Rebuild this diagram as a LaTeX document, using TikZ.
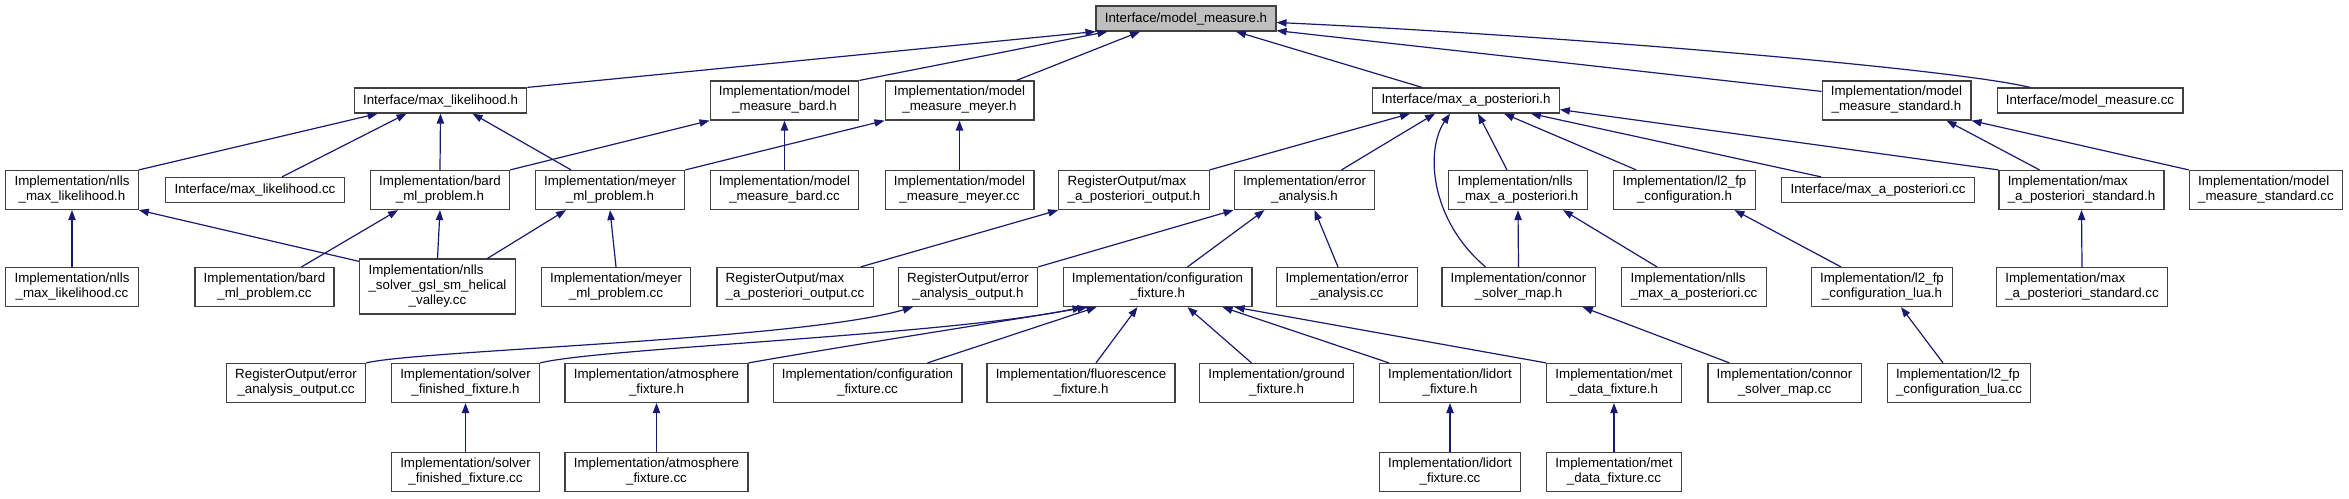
\documentclass[tikz,border=0pt]{standalone}
\usepackage{fontspec}
\setmainfont{Liberation Sans}
\usetikzlibrary{arrows.meta,calc}

\definecolor{edgeblue}{HTML}{191970}
\definecolor{boxgray}{HTML}{404040}
\definecolor{rootfill}{HTML}{BFBFBF}

\newcommand{\twoline}[2]{\begin{tabular}{@{}l@{}}#1\\\multicolumn{1}{@{}c@{}}{#2}\end{tabular}}
\newcommand{\threeline}[3]{\begin{tabular}{@{}l@{}}#1\\#2\\\multicolumn{1}{@{}c@{}}{#3}\end{tabular}}

\tikzset{
    incbox/.style = {draw = boxgray, fill = white, line width = 0.9pt, inner xsep = 6.6pt, inner ysep = 0pt, minimum height = 18.75pt, font = \fontsize{10}{11.25}\selectfont},
    incboxii/.style = {incbox, minimum height = 29.25pt},
    incboxiii/.style = {incbox, minimum height = 41.25pt},
    incarrow/.style = {draw = edgeblue, line width = 0.9pt, -{Triangle[length = 7.5pt, width = 5.5pt]}}
}

\begin{document}
\begin{tikzpicture}[x = 0.75pt, y = -0.75pt]
    \useasboundingbox (0,0) rectangle (2349,499);

    \node [incbox, fill = rootfill] (mm) at (1186,18.5) {Interface/model\_measure.h};

    \node [incbox]   (mlh)  at (440.5,100.5)  {Interface/max\_likelihood.h};
    \node [incboxii] (mmbh) at (784.5,100.5)  {\twoline{Implementation/model}{\_measure\_bard.h}};
    \node [incboxii] (mmmh) at (959.5,100.5)  {\twoline{Implementation/model}{\_measure\_meyer.h}};
    \node [incbox]   (maph) at (1466,100.5)   {Interface/max\_a\_posteriori.h};
    \node [incboxii] (mmsh) at (1896.5,100.5) {\twoline{Implementation/model}{\_measure\_standard.h}};
    \node [incbox]   (mmcc) at (2090,100.5)   {Interface/model\_measure.cc};

    \node [incboxii] (nmlh)  at (72,190)     {\twoline{Implementation/nlls}{\_max\_likelihood.h}};
    \node [incbox]   (mlcc)  at (255,190)    {Interface/max\_likelihood.cc};
    \node [incboxii] (bmph)  at (440,190)    {\twoline{Implementation/bard}{\_ml\_problem.h}};
    \node [incboxii] (mmph)  at (610,190)    {\twoline{Implementation/meyer}{\_ml\_problem.h}};
    \node [incboxii] (mmbcc) at (784.5,190)  {\twoline{Implementation/model}{\_measure\_bard.cc}};
    \node [incboxii] (mmmcc) at (959.5,190)  {\twoline{Implementation/model}{\_measure\_meyer.cc}};
    \node [incboxii] (mapoh) at (1134,190)   {\twoline{RegisterOutput/max}{\_a\_posteriori\_output.h}};
    \node [incboxii] (eah)   at (1304.5,190) {\twoline{Implementation/error}{\_analysis.h}};
    \node [incboxii] (nmaph) at (1518,190)   {\twoline{Implementation/nlls}{\_max\_a\_posteriori.h}};
    \node [incboxii] (lfch)  at (1684.5,190) {\twoline{Implementation/l2\_fp}{\_configuration.h}};
    \node [incbox]   (mapcc) at (1878,190)   {Interface/max\_a\_posteriori.cc};
    \node [incboxii] (mapsh) at (2081.5,190) {\twoline{Implementation/max}{\_a\_posteriori\_standard.h}};
    \node [incboxii] (mmscc) at (2266,190)   {\twoline{Implementation/model}{\_measure\_standard.cc}};

    \node [incboxii]  (nmlcc)  at (72,287)     {\twoline{Implementation/nlls}{\_max\_likelihood.cc}};
    \node [incboxii]  (bmpcc)  at (264.5,287)  {\twoline{Implementation/bard}{\_ml\_problem.cc}};
    \node [incboxiii] (nshv)   at (437.5,286.5) {\threeline{Implementation/nlls}{\_solver\_gsl\_sm\_helical}{\_valley.cc}};
    \node [incboxii]  (mmpcc)  at (616,287)    {\twoline{Implementation/meyer}{\_ml\_problem.cc}};
    \node [incboxii]  (mapocc) at (795,287)    {\twoline{RegisterOutput/max}{\_a\_posteriori\_output.cc}};
    \node [incboxii]  (eaoh)   at (968,287)    {\twoline{RegisterOutput/error}{\_analysis\_output.h}};
    \node [incboxii]  (cfh)    at (1157.5,287) {\twoline{Implementation/configuration}{\_fixture.h}};
    \node [incboxii]  (eacc)   at (1347,287)   {\twoline{Implementation/error}{\_analysis.cc}};
    \node [incboxii]  (csmh)   at (1518.5,287) {\twoline{Implementation/connor}{\_solver\_map.h}};
    \node [incboxii]  (nmapcc) at (1694,287)   {\twoline{Implementation/nlls}{\_max\_a\_posteriori.cc}};
    \node [incboxii]  (lfclh)  at (1882,287)   {\twoline{Implementation/l2\_fp}{\_configuration\_lua.h}};
    \node [incboxii]  (mapscc) at (2082,287)   {\twoline{Implementation/max}{\_a\_posteriori\_standard.cc}};

    \node [incboxii] (eaocc)  at (296,383)    {\twoline{RegisterOutput/error}{\_analysis\_output.cc}};
    \node [incboxii] (sffh)   at (465.5,383)  {\twoline{Implementation/solver}{\_finished\_fixture.h}};
    \node [incboxii] (afh)    at (656.5,383)  {\twoline{Implementation/atmosphere}{\_fixture.h}};
    \node [incboxii] (cfcc)   at (867.5,383)  {\twoline{Implementation/configuration}{\_fixture.cc}};
    \node [incboxii] (ffh)    at (1081,383)   {\twoline{Implementation/fluorescence}{\_fixture.h}};
    \node [incboxii] (gfh)    at (1276.5,383) {\twoline{Implementation/ground}{\_fixture.h}};
    \node [incboxii] (lfh)    at (1450,383)   {\twoline{Implementation/lidort}{\_fixture.h}};
    \node [incboxii] (mdfh)   at (1614,383)   {\twoline{Implementation/met}{\_data\_fixture.h}};
    \node [incboxii] (csmcc)  at (1784.5,383) {\twoline{Implementation/connor}{\_solver\_map.cc}};
    \node [incboxii] (lfclcc) at (1959,383)   {\twoline{Implementation/l2\_fp}{\_configuration\_lua.cc}};

    \node [incboxii] (sffcc) at (465.5,472) {\twoline{Implementation/solver}{\_finished\_fixture.cc}};
    \node [incboxii] (afcc)  at (656.5,472) {\twoline{Implementation/atmosphere}{\_fixture.cc}};
    \node [incboxii] (lfcc)  at (1450,472)  {\twoline{Implementation/lidort}{\_fixture.cc}};
    \node [incboxii] (mdfcc) at (1614,472)  {\twoline{Implementation/met}{\_data\_fixture.cc}};

    \draw [incarrow] (mlh.north east) -- (mm.south west);
    \draw [incarrow] (mmbh.north east) -- ($(mm.south west)+(12,0)$);
    \draw [incarrow] ($(mmmh.north east)+(-18,0)$) -- ($(mm.south)+(-46,0)$);
    \draw [incarrow] ($(maph.north)+(-44,0)$) -- ($(mm.south)+(50,0)$);
    \draw [incarrow] ($(mmsh.north west)+(0,11)$) -- ($(mm.south east)+(0,-1)$);
    \draw [incarrow] ($(mmcc.north)+(-60,0)$) .. controls (1950,68) and (1550,35) .. ($(mm.east)+(0,4)$);

    \draw [incarrow] (nmlh.north east) -- ($(mlh.south west)+(24,0)$);
    \draw [incarrow] ($(mlcc.north)+(27,0)$) -- ($(mlh.south)+(-34,0)$);
    \draw [incarrow] (bmph.north) -- (mlh.south);
    \draw [incarrow] ($(mmph.north)+(-39,0)$) -- ($(mlh.south)+(32,0)$);
    \draw [incarrow] (bmph.north east) -- (mmbh.south west);
    \draw [incarrow] (mmbcc.north) -- (mmbh.south);
    \draw [incarrow] (mmph.north east) -- (mmmh.south west);
    \draw [incarrow] (mmmcc.north) -- (mmmh.south);

    \draw [incarrow] (mapoh.north east) -- ($(maph.south)+(-56,0)$);
    \draw [incarrow] ($(eah.north)+(37,0)$) -- ($(maph.south)+(-31,0)$);
    \draw [incarrow] ($(csmh.north)+(-33,0)$) .. controls (1430,220) and (1425,150) .. ($(maph.south)+(-16,0)$);
    \draw [incarrow] ($(nmaph.north)+(-11,0)$) -- ($(maph.south)+(12,0)$);
    \draw [incarrow] ($(lfch.north west)+(23,0)$) -- ($(maph.south)+(38,0)$);
    \draw [incarrow] ($(mapcc.north west)+(40,0)$) -- ($(maph.south east)+(-29,0)$);
    \draw [incarrow] (mapsh.north west) -- ($(maph.south east)+(0,-4)$);
    \draw [incarrow] ($(mapsh.north)+(-42,0)$) -- ($(mmsh.south)+(50,0)$);
    \draw [incarrow] (mmscc.north west) -- (mmsh.south east);

    \draw [incarrow] (nmlcc.north) -- (nmlh.south);
    \draw [incarrow] ($(nshv.north west)+(0,3)$) -- (nmlh.south east);
    \draw [incarrow] ($(bmpcc.north)+(37,0)$) -- ($(bmph.south)+(-42,0)$);
    \draw [incarrow] (nshv.north) -- (bmph.south);
    \draw [incarrow] ($(nshv.north)+(50,0)$) -- ($(mmph.south)+(-44,0)$);
    \draw [incarrow] (mmpcc.north) -- (mmph.south);
    \draw [incarrow] ($(mapocc.north east)+(-13,0)$) -- (mapoh.south west);
    \draw [incarrow] (eaoh.north east) -- (eah.south west);
    \draw [incarrow] ($(cfh.north)+(30,0)$) -- ($(eah.south)+(-40,0)$);
    \draw [incarrow] ($(eacc.north)+(-9,0)$) -- ($(eah.south)+(10,0)$);
    \draw [incarrow] (csmh.north) -- (nmaph.south);
    \draw [incarrow] ($(nmapcc.north)+(-37,0)$) -- ($(nmaph.south)+(45,0)$);
    \draw [incarrow] ($(lfclh.north)+(-41,0)$) -- ($(lfch.south)+(50,0)$);
    \draw [incarrow] (mapscc.north) -- (mapsh.south);

    \draw [incarrow] (eaocc.north east) .. controls (420,350) and (800,340) .. ($(eaoh.south west)+(15,0)$);
    \draw [incarrow] (sffh.north east) .. controls (600,348) and (950,335) .. ($(cfh.south west)+(20,0)$);
    \draw [incarrow] (afh.north east) .. controls (850,345) and (1000,322) .. ($(cfh.south west)+(25,0)$);
    \draw [incarrow] ($(cfcc.north)+(60,0)$) -- ($(cfh.south west)+(34,0)$);
    \draw [incarrow] ($(ffh.north)+(15,0)$) -- ($(cfh.south)+(-20,0)$);
    \draw [incarrow] ($(gfh.north)+(-25,0)$) -- ($(cfh.south)+(30,0)$);
    \draw [incarrow] ($(lfh.north)+(-61,0)$) -- ($(cfh.south)+(65,0)$);
    \draw [incarrow] (mdfh.north west) -- ($(cfh.south east)+(-18,0)$);
    \draw [incarrow] ($(csmcc.north)+(-55,0)$) -- ($(csmh.south east)+(-13,0)$);
    \draw [incarrow] ($(lfclcc.north)+(-16,0)$) -- ($(lfclh.south)+(19,0)$);

    \draw [incarrow] (sffcc.north) -- (sffh.south);
    \draw [incarrow] (afcc.north) -- (afh.south);
    \draw [incarrow] (lfcc.north) -- (lfh.south);
    \draw [incarrow] (mdfcc.north) -- (mdfh.south);
\end{tikzpicture}
\end{document}
